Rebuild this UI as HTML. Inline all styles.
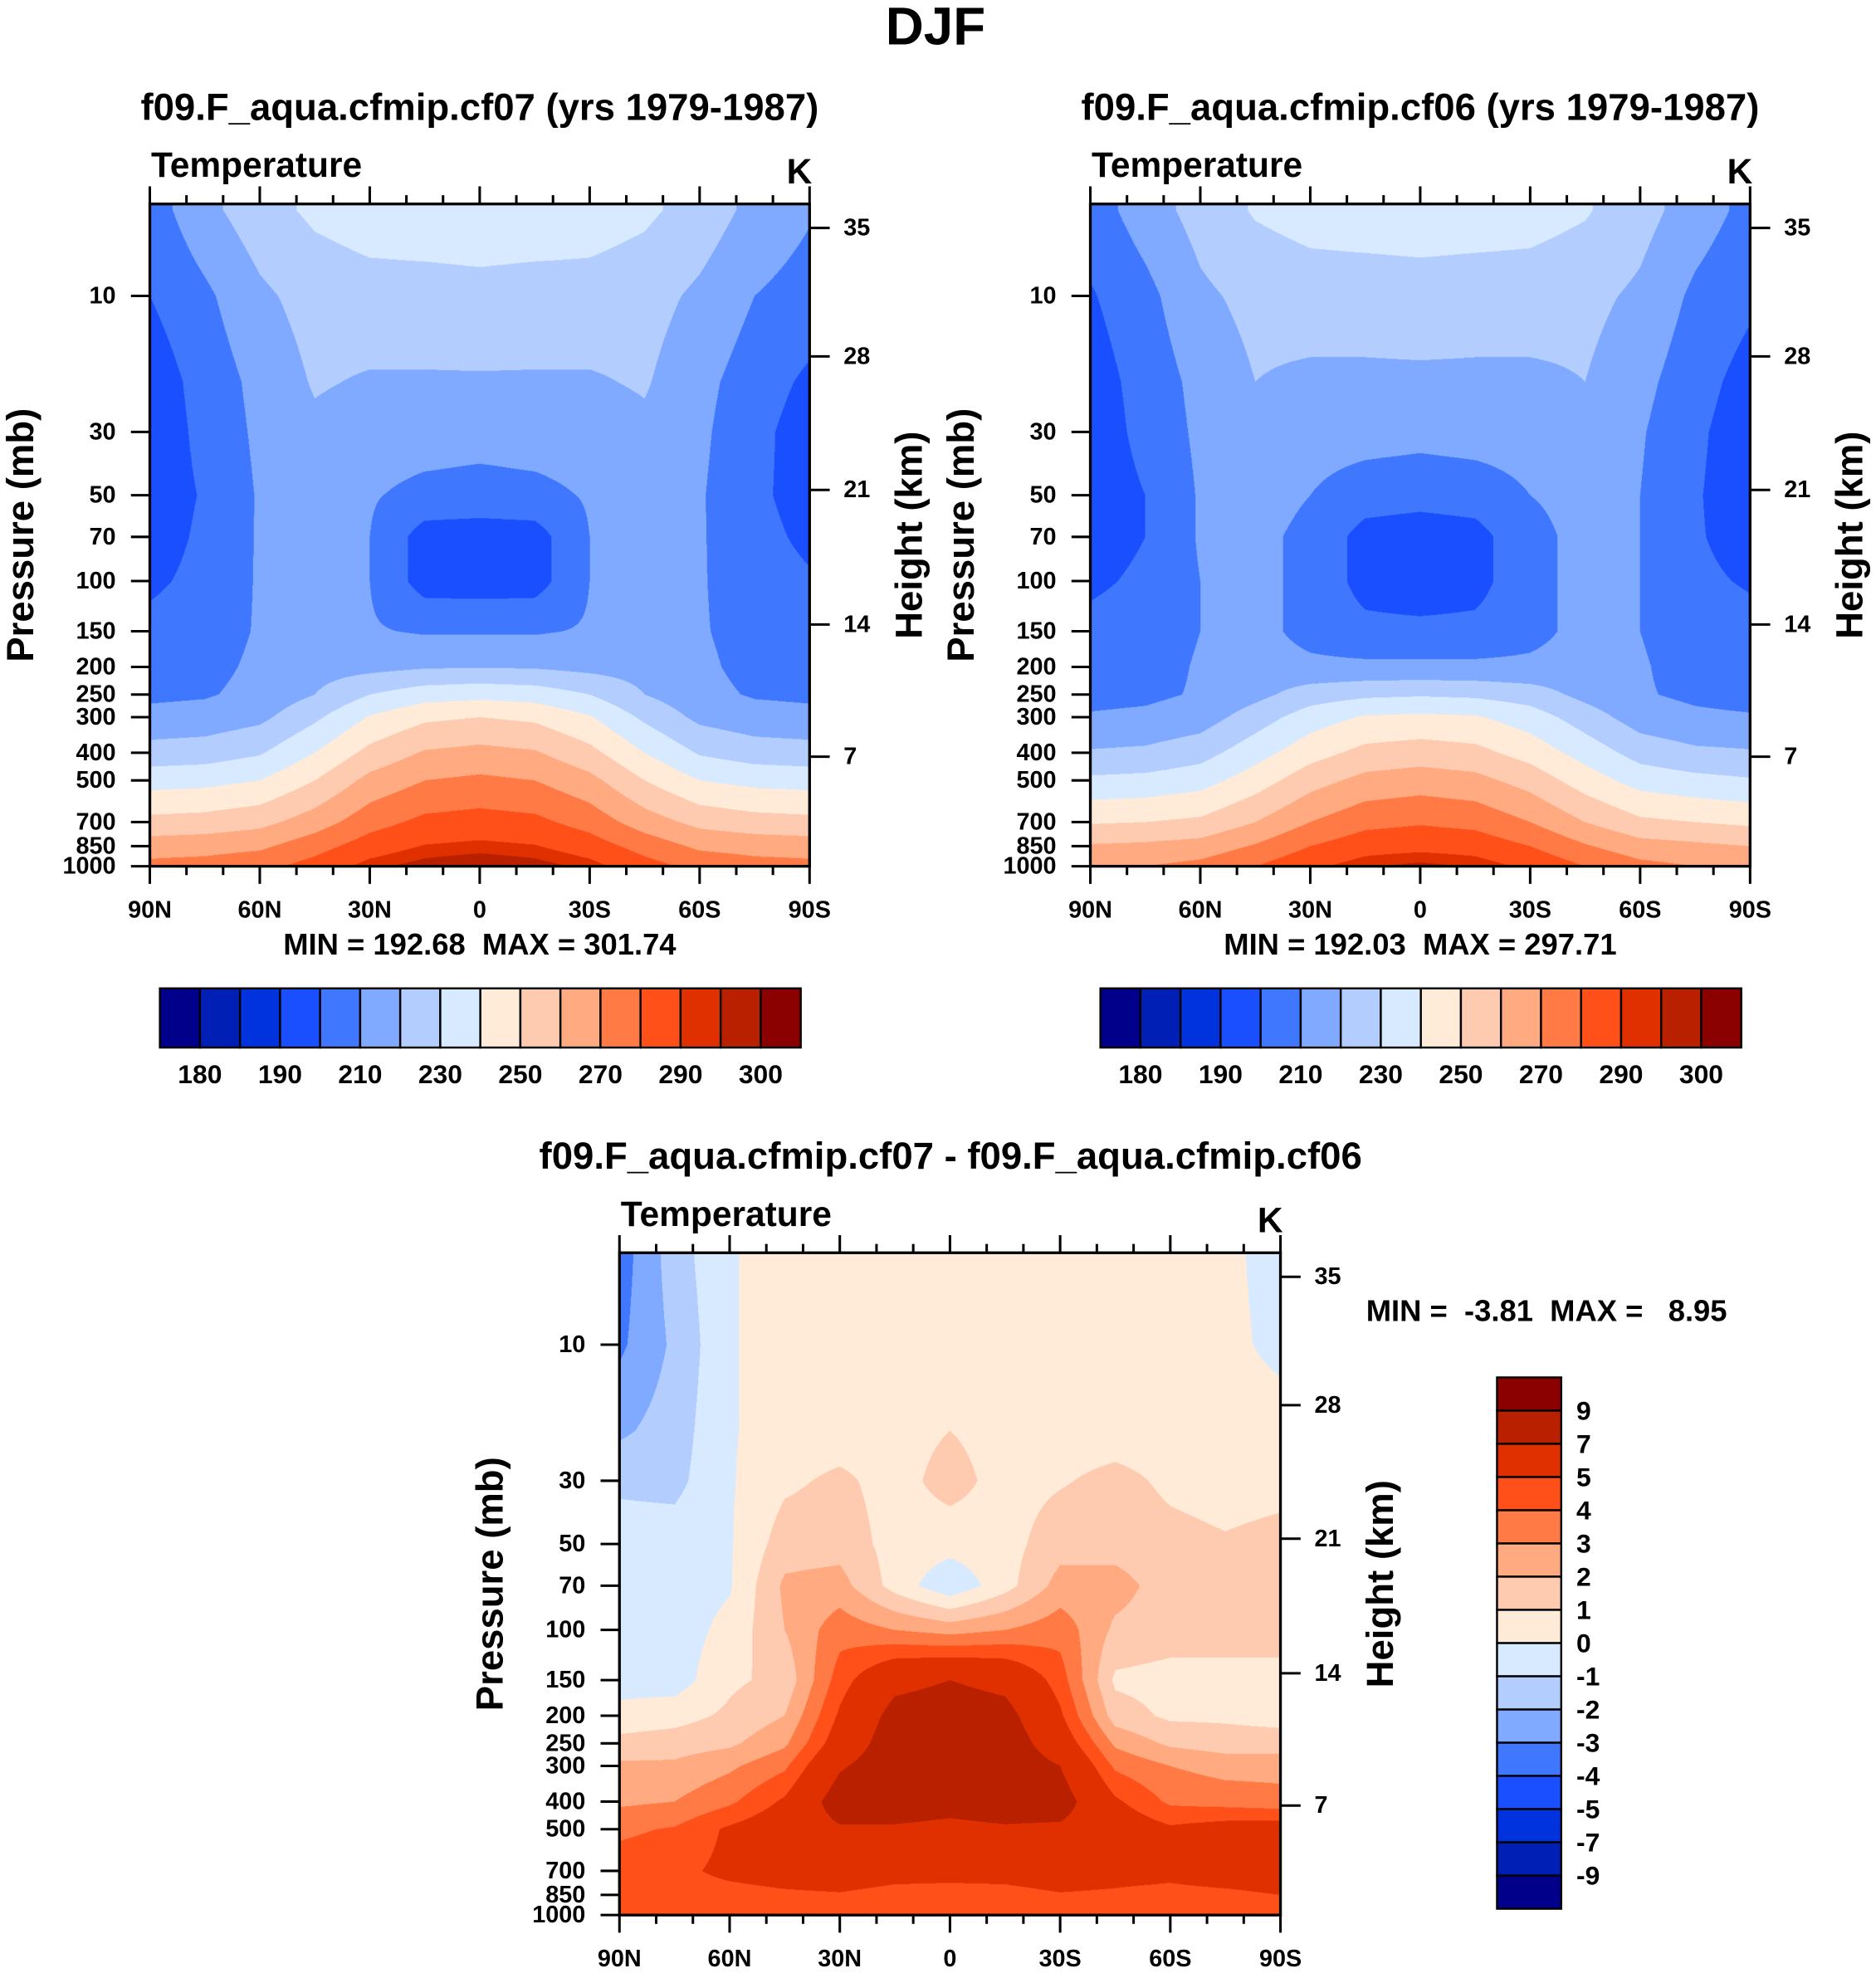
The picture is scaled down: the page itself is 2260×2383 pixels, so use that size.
<!DOCTYPE html>
<html><head><meta charset="utf-8">
<style>
html,body{margin:0;padding:0;background:#fff;width:2260px;height:2383px;overflow:hidden}
#root{position:absolute;left:0;top:0;width:1490px;height:1571px;transform:scale(1.51678,1.51687);transform-origin:0 0}
canvas{position:absolute}
svg{position:absolute;left:0;top:0}
text{font-family:"Liberation Sans",Arial,sans-serif;font-weight:bold;fill:#000;white-space:pre}
</style></head>
<body>
<div id="root">
<canvas id="c1" width="1048" height="1052" style="left:119px;top:162px;width:524px;height:526px"></canvas>
<canvas id="c2" width="1048" height="1052" style="left:866px;top:162px;width:524px;height:526px"></canvas>
<canvas id="c3" width="1050" height="1052" style="left:492px;top:995px;width:525px;height:526px"></canvas>
<svg id="ov" width="1490" height="1571" viewBox="0 0 1490 1571"></svg>
</div>
<script>
// ---- data ----
const pLevels=[5,10,20,30,50,70,100,150,200,250,300,400,500,700,850,1000];
const lats=[90,75,60,45,30,15,0,-15,-30,-45,-60,-75,-90];
const tempLevels=[180,185,190,200,210,220,230,240,250,260,270,280,290,295,300];
const diffLevels=[-9,-7,-5,-4,-3,-2,-1,0,1,2,3,4,5,7,9];
const colors=["#00008b","#0020b5","#0033dd","#1a4fff","#4077ff","#80aaff","#b3cdff","#d7eaff","#ffebd8","#ffcbb0","#ffaa80","#ff7a45","#ff5019","#e03000","#b82000","#8b0000"];
const tempTickLabels=["180","190","210","230","250","270","290","300"];
const diffTickLabels=["9","7","5","4","3","2","1","0","-1","-2","-3","-4","-5","-7","-9"];
const pTicks=[10,30,50,70,100,150,200,250,300,400,500,700,850,1000];
const hTicks=[35,28,21,14,7];
const hTickP=[5.78,16.3,47.9,142,413];
const latTicks=[90,60,30,0,-30,-60,-90];
const latTickLabels=["90N","60N","30N","0","30S","60S","90S"];
const cf07=[
[205,217,226,232,235,236,236,236,235,232,226,217,211],
[200,208,218,224,226,226,227,226,226,224,218,210,206],
[194,204,213,221,219,219,219,219,219,221,213,205,198],
[193,203,212,218,215,215,214,215,215,218,212,203,195],
[194,201,211,214,211,207,206,207,211,214,211,202,196],
[195,202,211,214,210,195.5,195,195.5,210,214,211,203,198],
[198,203,211,214,210,195.5,195,195.5,210,214,211,204,201],
[203,205,211,214,211,209,209,209,211,214,211,206,204],
[206,207,212,216,217,219,219.5,219,217,216,212,207,206],
[208,209,213,220,230,235.5,237,235.5,230,220,213,209,208],
[213,214,217.5,228,240.8,248,250,248,240.8,228,217.5,214,213],
[224,225,229,240,253,261,263,261,253,240,229,225,224],
[236,237,240,250,263,270,272,270,263,250,240,237,236],
[253,254,257,265,276,282.5,284,282.5,276,265,257,254,253],
[265,266,268,276,285,290.5,292,290.5,285,276,268,266,265],
[273,274,277,284,293,298,300.5,298,293,284,277,274,273]];
const cf06=[
[205,215,224,231,234,235,235,235,234,231,224,215,207],
[199,207,218,223,225,225,226,225,225,223,218,208,202],
[195,204,213,220,218,218,218,218,218,220,213,204,196],
[194,203,212,216,214,214,213,214,214,215,211,202,194],
[194,200,211,213,210,205,204,205,210,212,210,201,194],
[195,200,211,212,208,196,194,196,208,212,210,201,196],
[198,202,210,212,208,196,193,196,208,212,210,202,199],
[203,205,210,213,207,203,203,203,207,213,210,205,203],
[205,206,211,214,212,212,212,212,212,214,211,206,205],
[207,208,211,217,225,228,229,228,225,217,211,208,206],
[211,212,215,225,235,241,242,241,235,225,215,212,211],
[221,222,226,236,246,253,255,253,246,236,226,222,221],
[232,233,236,245,256,263,265,263,256,245,236,233,231],
[249,250,252,260,270,277,279,277,270,260,252,250,248],
[261,262,264,271,280,286,287,286,280,271,264,262,260],
[269,270,273,280,288,294,297,294,288,280,273,270,268]];
const diff=[
[-3.5,-1.5,-0.1,0.5,0.5,0.5,0.5,0.5,0.5,0.5,0.5,0.3,-0.5],
[-3.2,-1.8,-0.1,0.5,0.5,0.5,0.5,0.5,0.5,0.5,0.5,0.3,-0.3],
[-2.2,-1.5,-0.1,0.5,0.5,0.6,1.0,0.6,0.5,0.5,0.5,0.5,0.5],
[-1.2,-1.3,-0.1,0.8,1.2,0.6,1.4,0.6,0.9,1.3,0.8,0.6,0.7],
[-0.5,-0.5,-0.1,1.5,1.6,0.6,0.4,0.6,1.6,1.6,1.3,1.1,1.3],
[-0.5,-0.5,-0.1,2.2,2.4,0.6,-0.8,0.6,2.4,2.4,1.5,1.5,1.5],
[-0.5,-0.5,0.3,2.0,3.6,3.0,2.6,3.0,3.6,1.8,1.5,1.5,1.5],
[-0.5,-0.5,0.8,1.3,4.5,6.5,7.0,6.5,4.5,0.8,0.6,0.6,0.6],
[0.4,0.6,1.2,2.0,5.2,7.6,7.9,7.6,5.2,1.5,0.8,0.8,0.6],
[1.3,1.5,1.8,2.8,5.8,8.0,8.2,8.0,6.0,2.8,1.8,1.5,1.5],
[2.2,2.2,2.8,3.8,6.8,8.1,8.3,8.1,7.0,3.8,3.0,2.6,2.6],
[2.8,3.0,3.8,5.2,7.9,7.9,7.6,7.9,7.8,5.2,3.8,3.6,3.4],
[3.8,4.1,5.2,6.0,6.8,6.8,6.6,6.8,6.7,6.0,5.2,5.6,5.7],
[4.5,4.7,5.3,5.6,5.8,5.5,5.4,5.5,5.8,5.5,5.4,5.8,6.0],
[4.5,4.5,4.6,4.8,4.9,4.6,4.6,4.6,4.9,4.8,4.6,4.7,5.0],
[4.3,4.4,4.5,4.6,4.5,4.4,4.4,4.4,4.5,4.6,4.5,4.5,4.5]];

// ---- helpers ----
const NS="http://www.w3.org/2000/svg";
const ov=document.getElementById('ov');
const DEC=226.5;
function mk(tag,attrs,parent){const e=document.createElementNS(NS,tag);for(const k in attrs)e.setAttribute(k,attrs[k]);(parent||ov).appendChild(e);return e;}
function hex(c){return [parseInt(c.slice(1,3),16),parseInt(c.slice(3,5),16),parseInt(c.slice(5,7),16)];}
const rgb=colors.map(hex);
const logP=pLevels.map(p=>Math.log10(p));
function interp(grid,lat,lp){
  let ci=(90-lat)/15; ci=Math.max(0,Math.min(lats.length-1.0001,ci));
  const i0=Math.floor(ci),tx=ci-i0;
  let j0=0,ty=0;
  if(lp<=logP[0]){j0=0;ty=0;}
  else if(lp>=logP[logP.length-1]){j0=logP.length-2;ty=1;}
  else{for(let j=0;j<logP.length-1;j++){if(lp>=logP[j]&&lp<=logP[j+1]){j0=j;ty=(lp-logP[j])/(logP[j+1]-logP[j]);break;}}}
  const a=grid[j0][i0],b=grid[j0][i0+1],c=grid[j0+1][i0],d=grid[j0+1][i0+1];
  return (a*(1-tx)+b*tx)*(1-ty)+(c*(1-tx)+d*tx)*ty;
}
function cls(v,levels){let k=0;while(k<levels.length&&v>=levels[k])k++;return k;}
function drawField(id,grid,levels,y0,y1){
  const cv=document.getElementById(id),ctx=cv.getContext('2d');
  const W=cv.width,H=cv.height,img=ctx.createImageData(W,H);
  for(let py=0;py<H;py++){
    const yd=y0+(py+0.5)/H*(y1-y0);
    const lp=3-(y1-yd)/DEC;
    for(let px=0;px<W;px++){
      const lat=90-(px+0.5)/W*180;
      const c=rgb[cls(interp(grid,lat,lp),levels)];
      const o=(py*W+px)*4;img.data[o]=c[0];img.data[o+1]=c[1];img.data[o+2]=c[2];img.data[o+3]=255;
    }
  }
  ctx.putImageData(img,0,0);
}
function txt(s,x,y,size,anchor,name,extra){
  const t=mk('text',Object.assign({x:x,y:y,'font-size':size,'text-anchor':anchor||'start','dominant-baseline':'central'},extra||{}));
  t.textContent=s;
  
  
  return t;
}
function axes(x0,x1,y0,y1,pre){
  const yOf=p=>y1-(3-Math.log10(p))*DEC;
  const xOf=lat=>x0+(90-lat)/180*(x1-x0);
  const g=mk('g',{});
  
  
  const fr=mk('rect',{x:x0,y:y0,width:x1-x0,height:y1-y0,fill:'none',stroke:'#000','stroke-width':2.2},g);
  
  
  for(let lat=90;lat>=-90;lat-=10){
    const major=(lat%30===0),L=major?14:7,x=xOf(lat);
    mk('line',{x1:x,x2:x,y1:y0,y2:y0-L,stroke:'#000','stroke-width':2},g);
    mk('line',{x1:x,x2:x,y1:y1,y2:y1+L,stroke:'#000','stroke-width':2},g);
  }
  latTicks.forEach((lat,i)=>txt(latTickLabels[i],xOf(lat),y1+35,19,'middle',pre+'-x-tick-label'));
  pTicks.forEach(p=>{const y=yOf(p);mk('line',{x1:x0,x2:x0-15,y1:y,y2:y,stroke:'#000','stroke-width':2},g);
    txt(String(p),x0-27,y,19,'end',pre+'-pressure-tick-label');});
  hTicks.forEach((h,i)=>{const y=yOf(hTickP[i]);mk('line',{x1:x1,x2:x1+16,y1:y,y2:y,stroke:'#000','stroke-width':2},g);
    txt(String(h),x1+27,y,19,'start',pre+'-height-tick-label');});
  const cy=(y0+y1)/2;
  txt('Pressure (mb)',x0-103,cy,30,'middle',pre+'-y-axis-title',{transform:'rotate(-90 '+(x0-103)+' '+cy+')'});
  txt('Height (km)',x1+79,cy,30,'middle',pre+'-right-axis-title',{transform:'rotate(-90 '+(x1+79)+' '+cy+')'});
  txt('Temperature',x0+1,y0-31,28,'start',pre+'-variable-label');
  txt('K',x1+2,y0-26,28,'end',pre+'-units-label');
}
function hbar(x0,x1,y0,y1,pre){
  const w=(x1-x0)/colors.length;
  colors.forEach((c,i)=>{const r=mk('rect',{x:x0+i*w,y:y0,width:w,height:y1-y0,fill:c,stroke:'#000','stroke-width':1.6});
    
    });
  tempTickLabels.forEach((s,i)=>txt(s,x0+(1+2*i)*w,y1+21,21,'middle',pre+'-colorbar-label'));
}
// ---- render ----
drawField('c1',cf07,tempLevels,162,688);
drawField('c2',cf06,tempLevels,162,688);
drawField('c3',diff,diffLevels,995,1521);
txt('DJF',743,21,42,'middle','figure-title');
txt('f09.F_aqua.cfmip.cf07 (yrs 1979-1987)',381,85,30,'middle','panel1-title');
txt('f09.F_aqua.cfmip.cf06 (yrs 1979-1987)',1128,85,30,'middle','panel2-title');
txt('f09.F_aqua.cfmip.cf07 - f09.F_aqua.cfmip.cf06',755,918,30,'middle','panel3-title');
axes(119,643,162,688,'panel1');
axes(866,1390,162,688,'panel2');
axes(492,1017,995,1521,'panel3');
txt('MIN = 192.68  MAX = 301.74',381,750,24,'middle','panel1-min-max');
txt('MIN = 192.03  MAX = 297.71',1128,750,24,'middle','panel2-min-max');
txt('MIN =  -3.81  MAX =   8.95',1085,1041,24,'start','panel3-min-max');
hbar(127,636,785,832,'panel1');
hbar(874,1383,785,832,'panel2');
(function(){const x0=1189,x1=1240,y0=1094,y1=1516,h=(y1-y0)/colors.length;
  colors.slice().reverse().forEach((c,i)=>{const r=mk('rect',{x:x0,y:y0+i*h,width:x1-x0,height:h,fill:c,stroke:'#000','stroke-width':1.6});
    
    });
  diffTickLabels.forEach((s,i)=>txt(s,1252,y0+(i+1)*h,21,'start','panel3-colorbar-label'));
})();
</script>
</body></html>
